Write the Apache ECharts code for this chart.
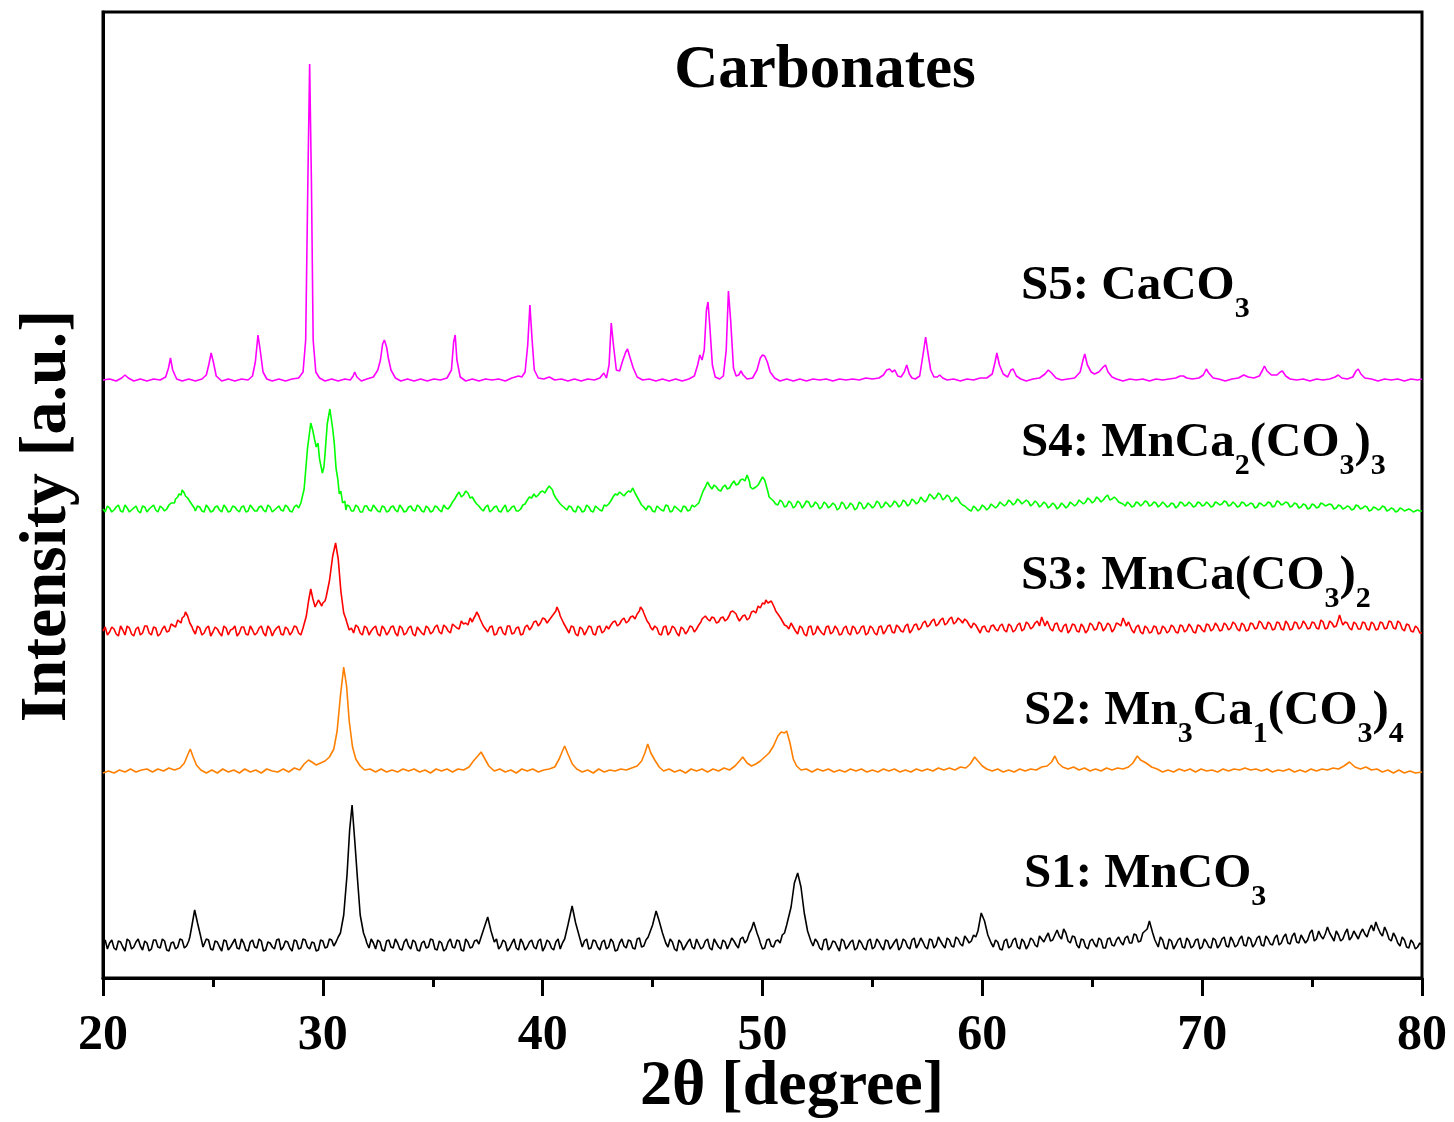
<!DOCTYPE html>
<html>
<head>
<meta charset="utf-8">
<script src="https://cdn.jsdelivr.net/npm/echarts@6/dist/echarts.min.js"></script>
<style>
  html, body { margin: 0; padding: 0; background: #fff; }
  #main { width: 1454px; height: 1122px; }
</style>
</head>
<body>
<div id="main"></div>
<script>
// 样品名称（从下往上）
var sampleNames = ['S1: MnCO3', 'S2: Mn3Ca1(CO3)4', 'S3: MnCa(CO3)2', 'S4: MnCa2(CO3)3', 'S5: CaCO3'];
// 每条曲线的纵向偏移 (a.u.)
var baselineOffsets = [33, 207, 347, 469, 598];
var xTicks = [20, 30, 40, 50, 60, 70, 80];

// [2theta, 相对强度]
var s1MnCO3 = [
  [20.0,0],[20.1,5],[20.2,-4],[20.3,2],[20.4,5],[20.5,-3],[20.6,-5],[20.7,4],[20.8,3],[20.9,-2],[21.0,-6],[21.1,6],[21.2,4],[21.3,-4],[21.4,-2],[21.5,3],[21.6,6],[21.7,-1],[21.8,-5],[21.9,4],
  [22.0,2],[22.1,-6],[22.2,-4],[22.3,5],[22.4,5],[22.5,-2],[22.6,-3],[22.7,6],[22.8,4],[22.9,-5],[23.0,-6],[23.1,2],[23.2,3],[23.3,-4],[23.4,-2],[23.5,6],[23.6,5],[23.7,-3],[23.8,-1],[23.9,4],
  [23.95,8],[24.05,20],[24.17,35],[24.3,22],[24.45,8],[24.55,-2],[24.6,-3],[24.7,6],[24.8,5],[24.9,-4],[25.0,-5],[25.1,4],[25.2,3],[25.3,-2],[25.4,-6],[25.5,5],[25.6,4],[25.7,-5],[25.8,-2],[25.9,2],
  [26.0,6],[26.1,-3],[26.2,-4],[26.3,6],[26.4,2],[26.5,-5],[26.6,-6],[26.7,3],[26.8,5],[26.9,-2],[27.0,-3],[27.1,6],[27.2,4],[27.3,-6],[27.4,-5],[27.5,3],[27.6,2],[27.7,-2],[27.8,-4],[27.9,5],
  [28.0,6],[28.1,-5],[28.2,-2],[28.3,4],[28.4,3],[28.5,-3],[28.6,-6],[28.7,5],[28.8,4],[28.9,-4],[29.0,-3],[29.1,6],[29.2,5],[29.3,-2],[29.4,-4],[29.5,3],[29.6,2],[29.7,-6],[29.8,-5],[29.9,5],
  [30.0,4],[30.1,-3],[30.2,-2],[30.3,6],[30.4,5],[30.5,-1],[30.6,3],[30.7,8],[30.8,12],[30.95,30],[31.1,70],[31.22,115],[31.33,140],[31.45,105],[31.58,65],[31.7,30],[31.85,12],[31.95,6],[32.0,2],[32.1,-3],
  [32.2,6],[32.3,2],[32.4,-4],[32.5,5],[32.6,3],[32.7,-5],[32.8,-6],[32.9,4],[33.0,5],[33.1,-2],[33.2,-3],[33.3,6],[33.4,2],[33.5,-4],[33.6,-5],[33.7,3],[33.8,6],[33.9,-1],[34.0,-4],[34.1,5],
  [34.2,3],[34.3,-5],[34.4,-6],[34.5,2],[34.6,4],[34.7,-3],[34.8,-2],[34.9,6],[35.0,5],[35.1,-4],[35.2,-5],[35.3,4],[35.4,2],[35.5,-6],[35.6,-4],[35.7,3],[35.8,6],[35.9,-2],[36.0,-3],[36.1,5],
  [36.2,4],[36.3,-5],[36.4,-6],[36.5,6],[36.6,3],[36.7,-3],[36.8,-2],[36.9,4],[37.0,5],[37.1,1],[37.2,8],[37.35,18],[37.5,28],[37.65,14],[37.8,3],[37.9,6],[38.0,-4],[38.1,-1],[38.2,5],[38.3,3],
  [38.4,-6],[38.5,-3],[38.6,2],[38.7,6],[38.8,-3],[38.9,-5],[39.0,6],[39.1,2],[39.2,-5],[39.3,-2],[39.4,3],[39.5,5],[39.6,-2],[39.7,-4],[39.8,4],[39.9,6],[40.0,-6],[40.1,-2],[40.2,5],[40.3,3],
  [40.4,-3],[40.5,-5],[40.6,3],[40.7,6],[40.8,-4],[40.9,2],[41.0,6],[41.15,20],[41.34,39],[41.5,22],[41.65,10],[41.8,-2],[41.9,4],[42.0,6],[42.1,-4],[42.2,-3],[42.3,5],[42.4,4],[42.5,-2],[42.6,-5],
  [42.7,3],[42.8,5],[42.9,-4],[43.0,-2],[43.1,6],[43.2,3],[43.3,-6],[43.4,-5],[43.5,2],[43.6,6],[43.7,-1],[43.8,-3],[43.9,5],[44.0,4],[44.1,-3],[44.2,-4],[44.3,6],[44.4,7],[44.5,-2],[44.6,-1],
  [44.7,5],[44.8,8],[45.0,20],[45.16,34],[45.3,24],[45.45,12],[45.6,2],[45.7,-2],[45.8,6],[45.9,3],[46.0,-4],[46.1,-6],[46.2,5],[46.3,2],[46.4,-5],[46.5,-1],[46.6,3],[46.7,6],[46.8,-2],[46.9,-4],
  [47.0,6],[47.1,1],[47.2,-4],[47.3,-2],[47.4,4],[47.5,6],[47.6,-3],[47.7,-5],[47.8,6],[47.9,2],[48.0,-2],[48.1,-4],[48.2,5],[48.3,3],[48.4,-4],[48.5,1],[48.6,7],[48.7,4],[48.8,0],[48.9,-3],
  [49.0,6],[49.1,8],[49.2,2],[49.3,5],[49.4,12],[49.5,16],[49.6,23],[49.75,12],[49.85,6],[49.9,2],[50.0,-4],[50.1,-3],[50.2,5],[50.3,6],[50.4,-1],[50.5,-2],[50.6,4],[50.7,5],[50.8,2],[50.9,10],
  [51.0,12],[51.1,20],[51.3,38],[51.45,62],[51.6,72],[51.75,58],[51.9,32],[52.05,14],[52.2,4],[52.3,-1],[52.4,6],[52.5,3],[52.6,-3],[52.7,-5],[52.8,5],[52.9,6],[53.0,-5],[53.1,-2],[53.2,4],[53.3,3],
  [53.4,-2],[53.5,-6],[53.6,6],[53.7,4],[53.8,-4],[53.9,-1],[54.0,3],[54.1,5],[54.2,-5],[54.3,-3],[54.4,5],[54.5,2],[54.6,-3],[54.7,-5],[54.8,4],[54.9,6],[55.0,-4],[55.1,-2],[55.2,6],[55.3,3],
  [55.4,-2],[55.5,-5],[55.6,5],[55.7,4],[55.8,-4],[55.9,-1],[56.0,3],[56.1,6],[56.2,-5],[56.3,-2],[56.4,6],[56.5,4],[56.6,-2],[56.7,-4],[56.8,5],[56.9,7],[57.0,-3],[57.1,1],[57.2,7],[57.3,3],
  [57.4,-2],[57.5,-4],[57.6,6],[57.7,5],[57.8,-3],[57.9,0],[58.0,8],[58.1,4],[58.2,0],[58.3,-3],[58.4,7],[58.5,5],[58.6,-1],[58.7,-2],[58.8,8],[58.9,6],[59.0,1],[59.1,-1],[59.2,9],[59.3,6],
  [59.4,2],[59.5,4],[59.6,10],[59.7,8],[59.8,14],[59.95,32],[60.1,24],[60.25,10],[60.4,2],[60.5,-2],[60.6,5],[60.7,3],[60.8,-4],[60.9,-5],[61.0,4],[61.1,6],[61.2,-3],[61.3,-1],[61.4,5],[61.5,7],
  [61.6,-2],[61.7,-4],[61.8,6],[61.9,3],[62.0,-4],[62.1,0],[62.2,7],[62.3,5],[62.4,0],[62.5,-2],[62.6,9],[62.7,6],[62.8,3],[62.9,8],[63.0,12],[63.1,4],[63.2,5],[63.3,10],[63.4,15],[63.5,9],
  [63.6,6],[63.7,16],[63.8,12],[63.9,4],[64.0,2],[64.1,9],[64.2,8],[64.3,0],[64.4,-3],[64.5,6],[64.6,5],[64.7,-2],[64.8,-4],[64.9,4],[65.0,6],[65.1,1],[65.2,-2],[65.3,7],[65.4,5],[65.5,-3],
  [65.6,-3],[65.7,6],[65.8,7],[65.9,0],[66.0,-1],[66.1,5],[66.2,8],[66.3,3],[66.4,0],[66.5,7],[66.6,9],[66.7,2],[66.8,2],[66.9,11],[67.0,10],[67.1,3],[67.2,4],[67.3,12],[67.4,14],[67.5,16],
  [67.6,24],[67.75,12],[67.85,5],[67.9,3],[68.0,-2],[68.1,8],[68.2,5],[68.3,-3],[68.4,-4],[68.5,6],[68.6,4],[68.7,-4],[68.8,0],[68.9,5],[69.0,7],[69.1,-2],[69.2,-3],[69.3,7],[69.4,4],[69.5,-3],
  [69.6,-1],[69.7,5],[69.8,6],[69.9,-4],[70.0,-2],[70.1,6],[70.2,3],[70.3,-2],[70.4,-3],[70.5,7],[70.6,5],[70.7,-3],[70.8,0],[70.9,6],[71.0,8],[71.1,-1],[71.2,-2],[71.3,8],[71.4,4],[71.5,-2],
  [71.6,0],[71.7,6],[71.8,9],[71.9,0],[72.0,-1],[72.1,8],[72.2,6],[72.3,-2],[72.4,1],[72.5,7],[72.6,9],[72.7,0],[72.8,-1],[72.9,9],[73.0,6],[73.1,1],[73.2,0],[73.3,7],[73.4,10],[73.5,0],
  [73.6,2],[73.7,8],[73.8,11],[73.9,2],[74.0,1],[74.1,9],[74.2,12],[74.3,3],[74.4,2],[74.5,10],[74.6,6],[74.7,2],[74.8,5],[74.9,12],[75.0,15],[75.1,4],[75.2,6],[75.3,14],[75.4,9],[75.5,6],
  [75.6,11],[75.7,18],[75.8,12],[75.9,8],[76.0,4],[76.1,14],[76.2,10],[76.3,4],[76.4,6],[76.5,12],[76.6,16],[76.7,5],[76.8,8],[76.9,14],[77.0,10],[77.1,6],[77.2,12],[77.3,16],[77.4,11],[77.5,8],
  [77.6,15],[77.7,20],[77.8,14],[77.9,23],[78.0,17],[78.1,12],[78.2,9],[78.3,18],[78.4,13],[78.5,6],[78.6,4],[78.7,12],[78.8,8],[78.9,2],[79.0,-1],[79.1,8],[79.2,5],[79.3,-2],[79.4,-3],[79.5,5],
  [79.6,2],[79.7,-4],[79.8,-2],[79.9,2],[80.0,0]
];

var s2Mn3Ca1 = [
  [20.0,-2],[20.25,0],[20.5,-2],[20.75,1],[21.0,-1],[21.25,2],[21.5,-1],[21.75,1],[22.0,2],[22.25,-1],[22.5,2],[22.75,0],[23.0,3],[23.25,1],[23.5,3],[23.7,8],[23.85,16],[23.97,22],[24.1,14],[24.25,6],
  [24.45,1],[24.7,-2],[24.95,1],[25.2,-2],[25.45,2],[25.7,-1],[25.95,1],[26.2,-2],[26.45,2],[26.7,-1],[26.95,1],[27.2,-2],[27.45,2],[27.7,0],[27.95,-1],[28.2,2],[28.45,-1],[28.7,3],[28.95,1],[29.15,7],
  [29.35,11],[29.5,9],[29.7,6],[29.9,8],[30.1,10],[30.3,14],[30.5,22],[30.65,40],[30.8,75],[30.95,104],[31.08,85],[31.2,50],[31.35,24],[31.5,12],[31.7,5],[31.9,1],[32.15,2],[32.4,-1],[32.65,2],[32.9,-1],
  [33.15,1],[33.4,-1],[33.65,2],[33.9,0],[34.15,2],[34.4,-1],[34.65,1],[34.9,-2],[35.15,2],[35.4,0],[35.65,2],[35.9,-1],[36.15,2],[36.4,1],[36.65,4],[36.85,10],[37.05,15],[37.2,19],[37.35,13],[37.55,5],
  [37.8,0],[38.05,2],[38.3,-1],[38.55,1],[38.8,-2],[39.05,2],[39.3,0],[39.55,2],[39.8,-1],[40.05,1],[40.3,2],[40.55,4],[40.75,12],[40.9,20],[41.0,25],[41.15,17],[41.35,7],[41.55,2],[41.8,-1],[42.05,1],
  [42.3,-2],[42.55,2],[42.8,-1],[43.05,1],[43.3,0],[43.55,2],[43.8,1],[44.05,3],[44.3,5],[44.5,10],[44.65,18],[44.78,27],[44.92,18],[45.1,11],[45.3,4],[45.5,0],[45.75,2],[46.0,-1],[46.25,1],[46.5,-2],
  [46.75,2],[47.0,0],[47.25,2],[47.5,-1],[47.75,2],[48.0,0],[48.25,3],[48.5,1],[48.75,5],[48.95,10],[49.1,14],[49.3,8],[49.5,5],[49.7,7],[49.9,10],[50.1,14],[50.3,18],[50.5,25],[50.7,35],[50.85,39],
  [51.0,38],[51.1,40],[51.25,28],[51.4,12],[51.55,5],[51.75,1],[52.0,2],[52.25,-1],[52.5,2],[52.75,0],[53.0,2],[53.25,-1],[53.5,1],[53.75,-1],[54.0,2],[54.25,0],[54.5,2],[54.75,-1],[55.0,1],[55.25,-1],
  [55.5,2],[55.75,0],[56.0,2],[56.25,-1],[56.5,1],[56.75,-1],[57.0,2],[57.25,0],[57.5,2],[57.75,0],[58.0,3],[58.25,1],[58.5,3],[58.75,1],[59.0,4],[59.25,3],[59.45,7],[59.65,14],[59.8,10],[60.0,5],
  [60.2,2],[60.45,0],[60.7,2],[60.95,-1],[61.2,1],[61.45,-1],[61.7,2],[61.95,0],[62.2,2],[62.45,1],[62.7,4],[62.95,5],[63.15,9],[63.3,15],[63.45,8],[63.65,4],[63.9,2],[64.15,4],[64.4,1],[64.65,3],
  [64.9,0],[65.15,2],[65.4,0],[65.65,3],[65.9,1],[66.15,3],[66.4,2],[66.65,4],[66.85,8],[67.05,15],[67.2,11],[67.45,8],[67.7,4],[67.95,2],[68.2,-1],[68.45,1],[68.7,-1],[68.95,2],[69.2,0],[69.45,2],
  [69.7,-1],[69.95,2],[70.2,0],[70.45,1],[70.7,-1],[70.95,2],[71.2,0],[71.45,2],[71.7,1],[71.95,3],[72.2,1],[72.45,2],[72.7,0],[72.95,2],[73.2,-1],[73.45,1],[73.7,0],[73.95,2],[74.2,-1],[74.45,1],
  [74.7,-1],[74.95,2],[75.2,0],[75.45,2],[75.7,1],[75.95,3],[76.2,2],[76.45,5],[76.7,9],[76.95,4],[77.2,2],[77.45,4],[77.7,1],[77.95,2],[78.2,-1],[78.45,1],[78.7,-2],[78.95,1],[79.2,-2],[79.45,0],
  [79.7,-2],[80.0,-1]
];

var s3MnCa = [
  [20.0,0],[20.1,4],[20.2,-4],[20.3,-1],[20.4,4],[20.5,2],[20.6,-3],[20.7,-5],[20.8,5],[20.9,1],[21.0,-4],[21.1,5],[21.2,3],[21.3,-3],[21.4,-5],[21.5,2],[21.6,4],[21.7,-4],[21.8,-2],[21.9,5],
  [22.0,5],[22.1,-2],[22.2,-4],[22.3,4],[22.4,3],[22.5,-5],[22.6,-3],[22.7,2],[22.8,5],[22.9,-1],[23.0,0],[23.1,7],[23.15,6],[23.3,4],[23.4,11],[23.45,10],[23.55,8],[23.6,13],[23.7,15],[23.75,19],
  [23.85,15],[23.95,8],[24.05,4],[24.1,1],[24.2,-3],[24.3,5],[24.4,3],[24.5,-4],[24.6,-2],[24.7,3],[24.8,5],[24.9,-5],[25.0,-1],[25.1,4],[25.2,2],[25.3,-2],[25.4,-5],[25.5,5],[25.6,3],[25.7,-4],
  [25.8,1],[25.9,2],[26.0,5],[26.1,-5],[26.2,-2],[26.3,4],[26.4,4],[26.5,-3],[26.6,-4],[26.7,5],[26.8,1],[26.9,-4],[27.0,-2],[27.1,3],[27.2,5],[27.3,-2],[27.4,-5],[27.5,5],[27.6,2],[27.7,-5],
  [27.8,0],[27.9,3],[28.0,5],[28.1,-3],[28.2,-4],[28.3,4],[28.4,2],[28.5,-4],[28.6,-1],[28.7,5],[28.8,4],[28.9,-2],[29.0,-4],[29.1,3],[29.25,15],[29.35,30],[29.45,42],[29.55,32],[29.65,24],[29.7,26],
  [29.8,31],[29.85,30],[29.95,25],[30.0,28],[30.1,30],[30.15,34],[30.3,50],[30.45,75],[30.58,88],[30.7,72],[30.82,40],[30.95,18],[31.05,12],[31.1,8],[31.2,1],[31.3,3],[31.4,-2],[31.5,6],[31.6,4],[31.7,-2],
  [31.8,-4],[31.9,5],[32.0,3],[32.1,-4],[32.2,0],[32.3,3],[32.4,5],[32.5,-3],[32.6,-5],[32.7,5],[32.8,2],[32.9,-4],[33.0,-1],[33.1,4],[33.2,5],[33.3,-2],[33.4,-5],[33.5,5],[33.6,3],[33.7,-4],
  [33.8,-2],[33.9,3],[34.0,5],[34.1,-3],[34.2,-5],[34.3,4],[34.4,1],[34.5,-2],[34.6,-4],[34.7,5],[34.8,3],[34.9,-3],[35.0,-1],[35.1,4],[35.2,6],[35.3,-1],[35.4,-3],[35.5,6],[35.6,4],[35.7,0],
  [35.8,-2],[35.9,7],[36.0,5],[36.1,3],[36.2,2],[36.3,10],[36.4,7],[36.5,8],[36.6,6],[36.7,13],[36.8,9],[36.85,12],[36.95,16],[37.0,19],[37.1,15],[37.15,12],[37.3,5],[37.4,2],[37.5,-1],[37.6,4],
  [37.7,5],[37.8,-4],[37.9,-3],[38.0,3],[38.1,4],[38.2,-2],[38.3,-4],[38.4,5],[38.5,5],[38.6,-3],[38.7,-2],[38.8,3],[38.9,4],[39.0,-4],[39.1,-3],[39.2,4],[39.3,6],[39.4,1],[39.5,4],[39.6,9],
  [39.7,10],[39.8,5],[39.9,8],[40.0,13],[40.1,12],[40.2,8],[40.3,11],[40.4,14],[40.5,17],[40.6,20],[40.65,24],[40.75,19],[40.8,15],[40.95,8],[41.05,4],[41.1,2],[41.2,-2],[41.3,5],[41.4,4],[41.5,-3],
  [41.6,-5],[41.7,4],[41.8,2],[41.9,-4],[42.0,0],[42.1,5],[42.2,4],[42.3,-3],[42.4,-4],[42.5,4],[42.6,5],[42.7,-2],[42.8,0],[42.9,5],[43.0,2],[43.1,6],[43.2,9],[43.3,10],[43.4,5],[43.5,7],
  [43.6,11],[43.7,13],[43.8,8],[43.9,10],[44.0,14],[44.1,15],[44.2,12],[44.3,17],[44.4,20],[44.45,24],[44.55,21],[44.6,18],[44.75,10],[44.85,7],[44.9,4],[45.0,1],[45.1,5],[45.2,3],[45.3,-3],[45.4,-4],
  [45.5,4],[45.6,5],[45.7,-4],[45.8,-1],[45.9,5],[46.0,3],[46.1,-2],[46.2,-5],[46.3,4],[46.4,2],[46.5,-3],[46.6,0],[46.7,5],[46.8,4],[46.9,-1],[47.0,2],[47.1,6],[47.2,9],[47.25,12],[47.3,14],
  [47.4,15],[47.5,12],[47.6,10],[47.7,14],[47.8,13],[47.9,8],[48.0,9],[48.1,13],[48.2,14],[48.3,10],[48.4,12],[48.5,16],[48.55,19],[48.65,20],[48.7,22],[48.8,17],[48.85,14],[48.95,10],[49.0,11],[49.1,15],
  [49.2,16],[49.3,11],[49.4,13],[49.5,19],[49.6,20],[49.7,18],[49.8,25],[49.9,23],[50.0,28],[50.1,27],[50.15,31],[50.25,28],[50.3,26],[50.4,30],[50.45,28],[50.55,23],[50.6,20],[50.7,17],[50.75,15],[50.85,12],
  [50.9,10],[51.0,6],[51.1,5],[51.2,2],[51.3,8],[51.4,4],[51.5,0],[51.6,-3],[51.7,5],[51.8,3],[51.9,-3],[52.0,-5],[52.1,4],[52.2,5],[52.3,-4],[52.4,-2],[52.5,5],[52.6,1],[52.7,-2],[52.8,-4],
  [52.9,4],[53.0,5],[53.1,-3],[53.2,-1],[53.3,5],[53.4,2],[53.5,-4],[53.6,-3],[53.7,3],[53.8,5],[53.9,-2],[54.0,-4],[54.1,5],[54.2,3],[54.3,-3],[54.4,-1],[54.5,4],[54.6,5],[54.7,-4],[54.8,-2],
  [54.9,5],[55.0,3],[55.1,-2],[55.2,-4],[55.3,4],[55.4,5],[55.5,-3],[55.6,0],[55.7,5],[55.8,6],[55.9,-1],[56.0,-2],[56.1,6],[56.2,4],[56.3,0],[56.4,-1],[56.5,5],[56.6,7],[56.7,-2],[56.8,1],
  [56.9,6],[57.0,7],[57.1,1],[57.2,3],[57.3,8],[57.4,10],[57.5,4],[57.6,6],[57.7,10],[57.8,12],[57.9,5],[58.0,7],[58.1,11],[58.2,13],[58.3,6],[58.4,8],[58.5,12],[58.6,14],[58.7,7],[58.8,9],
  [58.9,13],[59.0,11],[59.1,8],[59.2,12],[59.3,10],[59.4,6],[59.5,3],[59.6,8],[59.7,6],[59.8,2],[59.9,-2],[60.0,4],[60.1,5],[60.2,0],[60.3,-1],[60.4,5],[60.5,6],[60.6,2],[60.7,0],[60.8,5],
  [60.9,7],[61.0,1],[61.1,-1],[61.2,7],[61.3,5],[61.4,-1],[61.5,1],[61.6,6],[61.7,8],[61.8,0],[61.9,2],[62.0,9],[62.1,7],[62.2,2],[62.3,4],[62.4,8],[62.5,10],[62.6,5],[62.7,14],[62.8,8],
  [62.85,5],[62.95,10],[63.0,8],[63.1,2],[63.2,0],[63.3,7],[63.4,8],[63.5,1],[63.6,-1],[63.7,5],[63.8,7],[63.9,-2],[64.0,1],[64.1,7],[64.2,6],[64.3,0],[64.4,-1],[64.5,7],[64.6,4],[64.7,-2],
  [64.8,1],[64.9,8],[65.0,6],[65.1,1],[65.2,2],[65.3,9],[65.4,7],[65.5,0],[65.6,3],[65.7,8],[65.8,6],[65.9,-1],[66.0,2],[66.1,8],[66.2,7],[66.3,5],[66.4,13],[66.5,8],[66.55,5],[66.65,9],
  [66.7,7],[66.8,1],[66.9,-2],[67.0,4],[67.1,6],[67.2,-1],[67.3,-3],[67.4,5],[67.5,3],[67.6,-2],[67.7,-1],[67.8,5],[67.9,4],[68.0,-3],[68.1,-2],[68.2,5],[68.3,3],[68.4,-2],[68.5,0],[68.6,6],
  [68.7,4],[68.8,-1],[68.9,-2],[69.0,6],[69.1,5],[69.2,-1],[69.3,1],[69.4,7],[69.5,4],[69.6,-1],[69.7,-2],[69.8,6],[69.9,5],[70.0,1],[70.1,-1],[70.2,7],[70.3,6],[70.4,0],[70.5,2],[70.6,8],
  [70.7,5],[70.8,0],[70.9,1],[71.0,8],[71.1,6],[71.2,1],[71.3,3],[71.4,9],[71.5,7],[71.6,2],[71.7,0],[71.8,8],[71.9,6],[72.0,0],[72.1,1],[72.2,8],[72.3,7],[72.4,2],[72.5,3],[72.6,10],
  [72.7,8],[72.8,3],[72.9,2],[73.0,9],[73.1,7],[73.2,1],[73.3,2],[73.4,9],[73.5,8],[73.6,2],[73.7,1],[73.8,10],[73.9,7],[74.0,1],[74.1,2],[74.2,9],[74.3,8],[74.4,2],[74.5,4],[74.6,10],
  [74.7,7],[74.8,2],[74.9,3],[75.0,9],[75.1,8],[75.2,3],[75.3,2],[75.4,11],[75.5,9],[75.6,2],[75.7,3],[75.8,10],[75.9,8],[76.0,4],[76.1,5],[76.2,12],[76.25,16],[76.35,9],[76.4,6],[76.5,9],
  [76.6,8],[76.7,3],[76.8,1],[76.9,9],[77.0,7],[77.1,2],[77.2,2],[77.3,9],[77.4,8],[77.5,2],[77.6,1],[77.7,9],[77.8,7],[77.9,1],[78.0,2],[78.1,9],[78.2,8],[78.3,2],[78.4,3],[78.5,10],
  [78.6,9],[78.7,3],[78.8,2],[78.9,10],[79.0,8],[79.1,2],[79.2,0],[79.3,7],[79.4,6],[79.5,0],[79.6,-1],[79.7,5],[79.8,3],[79.9,-2],[80.0,-2]
];

var s4MnCa2 = [
  [20.0,0],[20.1,-3],[20.2,3],[20.3,1],[20.4,-3],[20.5,-1],[20.6,2],[20.7,4],[20.8,-2],[20.9,-3],[21.0,4],[21.1,1],[21.2,-3],[21.3,-1],[21.4,1],[21.5,3],[21.6,-2],[21.7,-4],[21.8,3],[21.9,2],
  [22.0,-3],[22.1,0],[22.2,2],[22.3,4],[22.4,-1],[22.5,-3],[22.6,3],[22.7,1],[22.8,-2],[22.9,0],[23.0,4],[23.1,6],[23.15,8],[23.25,6],[23.3,10],[23.4,12],[23.45,15],[23.55,14],[23.6,19],[23.7,16],
  [23.75,13],[23.85,11],[23.9,9],[24.0,6],[24.05,4],[24.15,1],[24.2,-2],[24.3,3],[24.4,2],[24.5,-2],[24.6,-3],[24.7,4],[24.8,1],[24.9,-3],[25.0,-2],[25.1,2],[25.2,3],[25.3,-1],[25.4,-3],[25.5,4],
  [25.6,1],[25.7,-3],[25.8,-2],[25.9,3],[26.0,2],[26.1,-1],[26.2,-3],[26.3,2],[26.4,3],[26.5,-3],[26.6,-2],[26.7,4],[26.8,1],[26.9,-2],[27.0,-2],[27.1,2],[27.2,3],[27.3,-1],[27.4,-3],[27.5,4],
  [27.6,2],[27.7,-3],[27.8,-1],[27.9,1],[28.0,3],[28.1,-1],[28.2,-2],[28.3,4],[28.4,2],[28.5,-2],[28.6,-3],[28.7,2],[28.8,4],[28.9,1],[29.0,6],[29.15,20],[29.3,60],[29.45,86],[29.55,78],[29.62,70],
  [29.7,62],[29.78,66],[29.85,50],[29.98,36],[30.05,42],[30.1,55],[30.2,85],[30.32,100],[30.45,80],[30.52,66],[30.6,41],[30.68,30],[30.75,15],[30.82,18],[30.9,6],[31.0,8],[31.05,-1],[31.1,4],[31.2,3],[31.3,-2],
  [31.4,-2],[31.5,4],[31.6,2],[31.7,-3],[31.8,-3],[31.9,3],[32.0,3],[32.1,-1],[32.2,-2],[32.3,4],[32.4,1],[32.5,-2],[32.6,-3],[32.7,3],[32.8,2],[32.9,-3],[33.0,-2],[33.1,2],[33.2,3],[33.3,-1],
  [33.4,-3],[33.5,4],[33.6,1],[33.7,-3],[33.8,-2],[33.9,2],[34.0,3],[34.1,-1],[34.2,-2],[34.3,4],[34.4,2],[34.5,-2],[34.6,-3],[34.7,3],[34.8,1],[34.9,-3],[35.0,-2],[35.1,3],[35.2,2],[35.3,-1],
  [35.4,-3],[35.5,4],[35.6,1],[35.7,0],[35.8,3],[35.9,7],[36.0,10],[36.1,14],[36.2,17],[36.3,12],[36.4,14],[36.5,18],[36.6,16],[36.7,11],[36.8,12],[36.9,8],[37.0,5],[37.1,3],[37.2,0],[37.3,-2],
  [37.4,2],[37.5,4],[37.6,-3],[37.7,-1],[37.8,2],[37.9,3],[38.0,-2],[38.1,-3],[38.2,1],[38.3,4],[38.4,-3],[38.5,-1],[38.6,2],[38.7,3],[38.8,-2],[38.9,-2],[39.0,0],[39.1,4],[39.2,5],[39.3,9],
  [39.4,12],[39.5,11],[39.6,15],[39.7,12],[39.8,14],[39.9,17],[40.0,18],[40.1,16],[40.2,20],[40.3,23],[40.35,25],[40.45,19],[40.5,15],[40.6,11],[40.7,8],[40.8,5],[40.9,3],[41.0,1],[41.1,-1],[41.2,3],
  [41.3,2],[41.4,-2],[41.5,-3],[41.6,3],[41.7,1],[41.8,-3],[41.9,-2],[42.0,4],[42.1,2],[42.2,-2],[42.3,-3],[42.4,3],[42.5,1],[42.6,-1],[42.7,-2],[42.8,4],[42.9,3],[43.0,5],[43.1,8],[43.2,12],
  [43.3,15],[43.4,14],[43.5,17],[43.6,15],[43.7,13],[43.8,16],[43.9,18],[44.0,17],[44.1,21],[44.2,16],[44.3,12],[44.4,8],[44.5,4],[44.6,2],[44.7,-1],[44.8,3],[44.9,2],[45.0,-2],[45.1,-3],[45.2,3],
  [45.3,1],[45.4,-1],[45.5,-2],[45.6,4],[45.7,3],[45.8,-3],[45.9,-2],[46.0,3],[46.1,1],[46.2,-1],[46.3,-3],[46.4,3],[46.5,2],[46.6,-2],[46.7,-1],[46.8,4],[46.9,2],[47.0,4],[47.1,6],[47.2,12],
  [47.3,18],[47.4,22],[47.5,27],[47.6,23],[47.7,20],[47.8,24],[47.9,22],[48.0,19],[48.1,18],[48.2,22],[48.3,24],[48.4,20],[48.5,21],[48.6,25],[48.7,28],[48.8,24],[48.9,25],[49.0,29],[49.1,30],[49.2,28],
  [49.3,34],[49.4,28],[49.45,22],[49.55,20],[49.6,18],[49.7,22],[49.8,24],[49.9,28],[50.0,32],[50.1,29],[50.15,25],[50.25,17],[50.3,12],[50.4,10],[50.5,8],[50.6,5],[50.7,4],[50.8,9],[50.9,7],[51.0,2],
  [51.1,3],[51.2,8],[51.3,6],[51.4,1],[51.5,3],[51.6,8],[51.7,6],[51.8,1],[51.9,4],[52.0,8],[52.1,7],[52.2,2],[52.3,3],[52.4,7],[52.5,5],[52.6,0],[52.7,2],[52.8,7],[52.9,5],[53.0,1],
  [53.1,3],[53.2,6],[53.3,4],[53.4,-1],[53.5,1],[53.6,7],[53.7,5],[53.8,0],[53.9,2],[54.0,6],[54.1,4],[54.2,-1],[54.3,1],[54.4,7],[54.5,5],[54.6,0],[54.7,2],[54.8,6],[54.9,4],[55.0,1],
  [55.1,3],[55.2,8],[55.3,6],[55.4,1],[55.5,3],[55.6,7],[55.7,5],[55.8,2],[55.9,4],[56.0,8],[56.1,6],[56.2,2],[56.3,4],[56.4,9],[56.5,7],[56.6,3],[56.7,5],[56.8,10],[56.9,8],[57.0,5],
  [57.1,7],[57.2,12],[57.3,9],[57.4,7],[57.5,10],[57.6,15],[57.7,13],[57.8,10],[57.9,12],[58.0,16],[58.1,14],[58.2,9],[58.3,11],[58.4,14],[58.5,12],[58.6,7],[58.7,9],[58.8,12],[58.9,10],[59.0,6],
  [59.1,4],[59.2,3],[59.3,1],[59.4,-1],[59.5,-2],[59.6,3],[59.7,1],[59.8,-2],[59.9,0],[60.0,4],[60.1,2],[60.2,-1],[60.3,1],[60.4,5],[60.5,3],[60.6,1],[60.7,3],[60.8,7],[60.9,5],[61.0,3],
  [61.1,5],[61.2,9],[61.3,7],[61.4,4],[61.5,6],[61.6,10],[61.7,8],[61.8,5],[61.9,7],[62.0,9],[62.1,7],[62.2,3],[62.3,5],[62.4,8],[62.5,6],[62.6,2],[62.7,4],[62.8,7],[62.9,5],[63.0,1],
  [63.1,3],[63.2,6],[63.3,4],[63.4,0],[63.5,2],[63.6,6],[63.7,4],[63.8,1],[63.9,3],[64.0,7],[64.1,5],[64.2,3],[64.3,5],[64.4,9],[64.5,7],[64.6,5],[64.7,7],[64.8,11],[64.9,9],[65.0,6],
  [65.1,8],[65.2,12],[65.3,10],[65.4,7],[65.5,9],[65.6,12],[65.7,14],[65.8,9],[65.9,10],[66.0,12],[66.1,10],[66.2,7],[66.3,6],[66.4,5],[66.5,3],[66.6,7],[66.7,5],[66.8,2],[66.9,3],[67.0,7],
  [67.1,6],[67.2,3],[67.3,5],[67.4,8],[67.5,7],[67.6,3],[67.7,4],[67.8,7],[67.9,6],[68.0,2],[68.1,4],[68.2,7],[68.3,5],[68.4,2],[68.5,3],[68.6,6],[68.7,5],[68.8,1],[68.9,3],[69.0,7],
  [69.1,6],[69.2,3],[69.3,4],[69.4,7],[69.5,5],[69.6,2],[69.7,3],[69.8,7],[69.9,6],[70.0,3],[70.1,4],[70.2,7],[70.3,5],[70.4,2],[70.5,3],[70.6,7],[70.7,6],[70.8,4],[70.9,5],[71.0,8],
  [71.1,7],[71.2,3],[71.3,4],[71.4,7],[71.5,5],[71.6,2],[71.7,3],[71.8,7],[71.9,6],[72.0,3],[72.1,4],[72.2,6],[72.3,5],[72.4,1],[72.5,2],[72.6,6],[72.7,5],[72.8,3],[72.9,4],[73.0,7],
  [73.1,6],[73.2,2],[73.3,3],[73.4,8],[73.5,7],[73.6,4],[73.7,5],[73.8,7],[73.9,6],[74.0,2],[74.1,3],[74.2,6],[74.3,5],[74.4,1],[74.5,2],[74.6,5],[74.7,4],[74.8,0],[74.9,1],[75.0,5],
  [75.1,4],[75.2,1],[75.3,2],[75.4,6],[75.5,5],[75.6,3],[75.7,4],[75.8,5],[75.9,4],[76.0,0],[76.1,1],[76.2,4],[76.3,3],[76.4,0],[76.5,1],[76.6,3],[76.7,2],[76.8,-1],[76.9,0],[77.0,4],
  [77.1,3],[77.2,0],[77.3,1],[77.4,3],[77.5,2],[77.6,-2],[77.7,-1],[77.8,2],[77.9,1],[78.0,-1],[78.1,0],[78.2,3],[78.3,2],[78.4,-2],[78.5,-1],[78.6,1],[78.7,0],[78.8,-3],[78.9,-2],[79.0,1],
  [79.1,0],[79.2,-2],[79.3,-1],[79.4,0],[79.5,-1],[79.6,-3],[79.7,-2],[79.8,-1],[79.9,-2],[80.0,-2]
];

var s5CaCO3 = [
  [20.0,0],[20.3,1],[20.6,-1],[20.85,2],[21.0,5],[21.15,2],[21.4,-1],[21.7,1],[22.0,-1],[22.3,1],[22.6,0],[22.85,3],[22.98,12],[23.07,22],[23.17,10],[23.35,1],[23.6,-1],[23.9,1],[24.2,-1],[24.5,1],
  [24.7,5],[24.82,16],[24.92,27],[25.02,18],[25.15,4],[25.4,-1],[25.7,1],[26.0,-1],[26.3,1],[26.6,0],[26.8,4],[26.93,18],[27.05,45],[27.15,30],[27.28,8],[27.45,1],[27.7,-1],[28.0,1],[28.3,-1],[28.6,1],
  [28.9,2],[29.1,8],[29.22,40],[29.32,200],[29.4,316],[29.48,200],[29.56,40],[29.68,8],[29.85,2],[30.1,-1],[30.4,1],[30.7,-1],[31.0,1],[31.25,0],[31.38,4],[31.45,8],[31.55,3],[31.75,-1],[32.0,1],[32.3,3],
  [32.5,10],[32.62,20],[32.72,36],[32.8,40],[32.9,33],[32.98,22],[33.1,10],[33.3,2],[33.55,-1],[33.85,1],[34.15,-1],[34.45,1],[34.75,-1],[35.05,1],[35.35,0],[35.65,2],[35.85,10],[35.95,38],[36.02,45],[36.1,20],
  [36.25,3],[36.5,-1],[36.8,1],[37.1,-1],[37.4,1],[37.7,0],[38.0,1],[38.3,-1],[38.6,2],[38.9,4],[39.05,3],[39.2,8],[39.32,35],[39.42,75],[39.52,40],[39.62,10],[39.8,2],[40.05,1],[40.3,3],[40.55,0],
  [40.85,1],[41.15,-1],[41.45,1],[41.75,-1],[42.05,1],[42.35,0],[42.6,2],[42.78,7],[42.9,2],[43.02,15],[43.12,57],[43.22,35],[43.35,10],[43.5,9],[43.65,20],[43.78,28],[43.86,31],[43.98,22],[44.12,12],[44.3,3],
  [44.55,0],[44.85,1],[45.15,-1],[45.45,1],[45.75,-1],[46.05,1],[46.35,-1],[46.65,1],[46.9,4],[47.05,15],[47.15,25],[47.25,20],[47.35,30],[47.45,70],[47.52,78],[47.6,55],[47.72,15],[47.85,3],[48.05,1],[48.22,4],
  [48.35,30],[48.45,89],[48.55,60],[48.68,12],[48.8,4],[48.92,5],[49.02,9],[49.12,5],[49.3,1],[49.55,2],[49.75,10],[49.9,22],[50.0,25],[50.1,24],[50.22,18],[50.35,8],[50.55,2],[50.8,-1],[51.1,1],[51.4,-1],
  [51.7,1],[52.0,-1],[52.3,1],[52.6,0],[52.9,1],[53.2,-1],[53.5,1],[53.8,0],[54.1,1],[54.4,0],[54.7,2],[55.0,1],[55.3,2],[55.5,5],[55.65,10],[55.78,11],[55.9,8],[56.02,10],[56.15,4],[56.3,3],
  [56.45,8],[56.56,15],[56.68,6],[56.8,2],[56.95,1],[57.15,4],[57.3,25],[57.42,43],[57.52,28],[57.65,10],[57.8,3],[57.95,3],[58.06,5],[58.2,2],[58.4,0],[58.7,1],[59.0,-1],[59.3,1],[59.6,0],[59.9,2],
  [60.2,2],[60.45,6],[60.58,18],[60.66,27],[60.78,15],[60.95,6],[61.15,3],[61.3,10],[61.4,11],[61.55,4],[61.75,1],[62.0,-1],[62.3,1],[62.6,2],[62.85,6],[63.0,10],[63.15,7],[63.35,2],[63.6,0],[63.9,1],
  [64.2,2],[64.45,8],[64.58,20],[64.66,26],[64.78,15],[64.95,8],[65.1,6],[65.3,8],[65.5,13],[65.6,15],[65.72,8],[65.9,3],[66.1,1],[66.4,-1],[66.7,1],[67.0,0],[67.3,1],[67.6,-1],[67.9,1],[68.2,0],
  [68.5,1],[68.8,2],[69.0,4],[69.15,4],[69.3,2],[69.55,1],[69.85,2],[70.05,5],[70.19,11],[70.3,7],[70.5,2],[70.75,1],[71.05,-1],[71.35,1],[71.65,2],[71.89,5],[72.1,3],[72.35,2],[72.6,4],[72.75,10],
  [72.83,14],[72.95,9],[73.15,5],[73.4,5],[73.55,8],[73.65,9],[73.8,4],[74.0,1],[74.3,0],[74.6,1],[74.9,-1],[75.2,1],[75.5,0],[75.8,1],[76.05,3],[76.19,5],[76.35,2],[76.6,1],[76.85,3],[77.0,9],
  [77.1,11],[77.22,6],[77.4,2],[77.7,1],[78.0,-1],[78.3,1],[78.6,0],[78.9,1],[79.2,-1],[79.5,1],[79.8,0],[80.0,1]
];

var patterns = [s1MnCO3, s2Mn3Ca1, s3MnCa, s4MnCa2, s5CaCO3];
var lineColors = ['#000000', '#ff8000', '#ff0000', '#00ff00', '#ff00ff'];

var fontFam = '"Liberation Serif", "Times New Roman", serif';
var myChart = echarts.init(document.getElementById('main'));

// 标签的文字分段：[文字, 是否下标]，y 为基线
var labelParts = [
  { parts: [['S1: MnCO', 0], ['3', 1]], x: 1024, y: 890 },
  { parts: [['S2: Mn', 0], ['3', 1], ['Ca', 0], ['1', 1], ['(CO', 0], ['3', 1], [')', 0], ['4', 1]], x: 1024, y: 727 },
  { parts: [['S3: MnCa(CO', 0], ['3', 1], [')', 0], ['2', 1]], x: 1021, y: 592 },
  { parts: [['S4: MnCa', 0], ['2', 1], ['(CO', 0], ['3', 1], [')', 0], ['3', 1]], x: 1021, y: 459 },
  { parts: [['S5: CaCO', 0], ['3', 1]], x: 1021, y: 302 }
];
var mainSize = 49, subSize = 30, subDrop = 17;

var ctx = document.createElement('canvas').getContext('2d');
function textWidth(str, size) {
  ctx.font = 'bold ' + size + 'px ' + fontFam;
  return ctx.measureText(str).width;
}

function buildLabels() {
  var els = [];
  labelParts.forEach(function (lab) {
    var cx = lab.x;
    lab.parts.forEach(function (p) {
      var size = p[1] ? subSize : mainSize;
      var base = p[1] ? lab.y + subDrop : lab.y;
      els.push({
        type: 'text',
        silent: true,
        style: {
          text: p[0],
          x: cx,
          y: base - 0.32 * size,
          fill: '#000',
          font: 'bold ' + size + 'px ' + fontFam,
          textAlign: 'left',
          textVerticalAlign: 'middle'
        }
      });
      cx += textWidth(p[0], size);
    });
  });
  return els;
}

var series = patterns.map(function (pat, i) {
  return {
    name: sampleNames[i],
    type: 'line',
    showSymbol: false,
    symbol: 'none',
    animation: false,
    lineStyle: { width: 1.6, color: lineColors[i] },
    itemStyle: { color: lineColors[i] },
    data: pat.map(function (d) { return [d[0], d[1] + baselineOffsets[i]]; })
  };
});

var option = {
  backgroundColor: '#ffffff',
  animation: false,
  grid: {
    left: 103, right: 32, top: 12, bottom: 144,
    show: true, borderColor: '#000', borderWidth: 3
  },
  xAxis: {
    type: 'value',
    min: xTicks[0],
    max: xTicks[xTicks.length - 1],
    interval: 10,
    axisLine: { show: true, lineStyle: { color: '#000', width: 3 } },
    axisTick: { show: true, inside: false, length: 18, lineStyle: { color: '#000', width: 3 } },
    minorTick: { show: true, splitNumber: 2, length: 9, lineStyle: { color: '#000', width: 3 } },
    splitLine: { show: false },
    axisLabel: {
      margin: 33,
      color: '#000',
      fontSize: 50,
      fontWeight: 'bold',
      fontFamily: fontFam
    }
  },
  yAxis: {
    type: 'value',
    min: 0,
    max: 966,
    axisLine: { show: true, lineStyle: { color: '#000', width: 3 } },
    axisTick: { show: false },
    axisLabel: { show: false },
    splitLine: { show: false }
  },
  graphic: {
    elements: [
      {
        type: 'text',
        silent: true,
        style: {
          text: 'Carbonates', x: 825, y: 71, fill: '#000',
          font: 'bold 61px ' + fontFam, textAlign: 'center', textVerticalAlign: 'middle'
        }
      },
      {
        type: 'text',
        silent: true,
        style: {
          text: '2θ [degree]', x: 792, y: 1087, fill: '#000',
          font: 'bold 64px ' + fontFam, textAlign: 'center', textVerticalAlign: 'middle'
        }
      },
      {
        type: 'text',
        silent: true,
        x: 48, y: 516, rotation: Math.PI / 2,
        style: {
          text: 'Intensity [a.u.]', x: 0, y: 0, fill: '#000',
          font: 'bold 66px ' + fontFam, textAlign: 'center', textVerticalAlign: 'middle'
        }
      }
    ].concat(buildLabels())
  },
  series: series
};
myChart.setOption(option);
</script>
</body>
</html>
